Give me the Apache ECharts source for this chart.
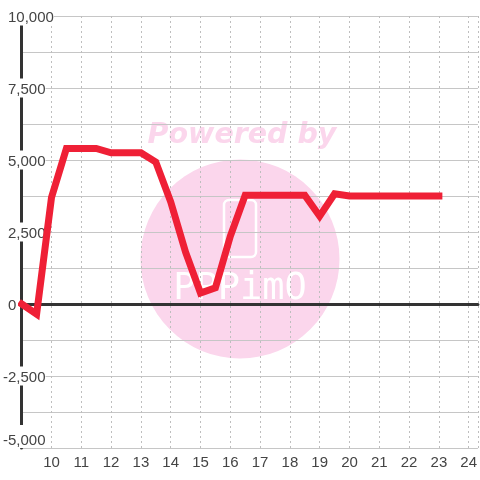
<!DOCTYPE html>
<html>
<head>
<meta charset="utf-8">
<style>html,body{margin:0;padding:0;background:#fff}#chart{width:480px;height:480px}</style>
<script src="https://cdn.jsdelivr.net/npm/echarts@6/dist/echarts.min.js"></script>
</head>
<body>
<div id="chart"></div>
<script>
// half-hour points
var hours = [9, 9.5, 10, 10.5, 11, 11.5, 12, 12.5, 13, 13.5, 14, 14.5, 15, 15.5, 16, 16.5, 17, 17.5, 18, 18.5, 19, 19.5, 20, 20.5, 21, 21.5, 22, 22.5, 23];
var values = [0, -350, 3700, 5400, 5400, 5400, 5250, 5250, 5250, 4930, 3550, 1800, 380, 560, 2350, 3780, 3780, 3780, 3780, 3780, 3050, 3830, 3750, 3750, 3750, 3750, 3750, 3750, 3750];
var yMin = -5000, yMax = 10000, yStep = 2500;
var xMin = 9, xMax = 24.31;

var points = hours.map(function (h, i) { return [h, values[i]]; });
var chart = echarts.init(document.getElementById('chart'));
var Grey = '#c6c6c6', Dark = '#333333', Text = '#444444';
var labelFont = { color: Text, fontFamily: 'Liberation Sans', fontSize: 15, backgroundColor: '#fff' };

var option = {
    animation: false,
    grid: { left: 20.7, right: 0, top: 16, bottom: 32 },
    xAxis: [
        {
            type: 'value', min: xMin, max: xMax, interval: 1, position: 'bottom',
            axisLine: { show: false, onZero: false }, axisTick: { show: false },
            axisLabel: { color: Text, fontFamily: 'Liberation Sans', fontSize: 15, margin: 7, showMinLabel: false, showMaxLabel: false },
            splitLine: { lineStyle: { color: '#bebebe', type: [2, 3], width: 1 } }
        },
        {
            // thick zero line
            type: 'value', min: xMin, max: xMax, interval: 1, position: 'top',
            axisLine: { show: true, onZero: true, lineStyle: { color: Dark, width: 3 } },
            axisTick: { show: false }, axisLabel: { show: false }, splitLine: { show: false }
        }
    ],
    yAxis: {
        type: 'value', min: yMin, max: yMax, interval: yStep,
        axisLine: { show: true, onZero: false, lineStyle: { color: Dark, width: 3 } },
        axisTick: { show: false },
        axisLabel: {
            margin: 18.7, align: 'left', verticalAlignMinLabel: 'bottom',
            formatter: function (v) {
                var s = echarts.format.addCommas(v);
                if (v === yMin) return '{low|' + s + '}';
                return v < 0 ? '{neg|' + s + '}' : '{pos|' + s + '}';
            },
            rich: {
                neg: Object.assign({ padding: [4, 0, 0, 0] }, labelFont),
                low: Object.assign({ padding: [8, 0, 0, 0] }, labelFont),
                pos: Object.assign({ padding: [4, 0, 0, 5] }, labelFont)
            }
        },
        splitLine: { lineStyle: { color: Grey, width: 1 } },
        minorTick: { show: false, splitNumber: 2 },
        minorSplitLine: { show: true, lineStyle: { color: Grey, width: 1 } }
    },
    graphic: [
        { type: 'circle', z: -10, shape: { cx: 240, cy: 259, r: 99.5 }, style: { fill: '#fbd6ec' } },
        { type: 'text', z: -10, x: 242, y: 136, style: { text: 'Powered by', fill: '#fbd6ec', font: 'italic bold 28.5px "DejaVu Sans"', align: 'center', verticalAlign: 'middle' } },
        { type: 'rect', z: -10, shape: { x: 224, y: 200, width: 32, height: 57, r: 5 }, style: { fill: 'none', stroke: '#fff', lineWidth: 2.5 } },
        { type: 'text', z: -10, x: 240, y: 289, style: { text: 'PPPimO', fill: '#fff', font: '37px "DejaVu Sans Mono"', align: 'center', verticalAlign: 'middle' } }
    ],
    series: [{
        type: 'line', data: points, showSymbol: false, smooth: false, clip: false,
        lineStyle: { color: '#ef2036', width: 7, cap: 'square', join: 'miter' }
    }]
};
chart.setOption(option);
</script>
</body>
</html>
